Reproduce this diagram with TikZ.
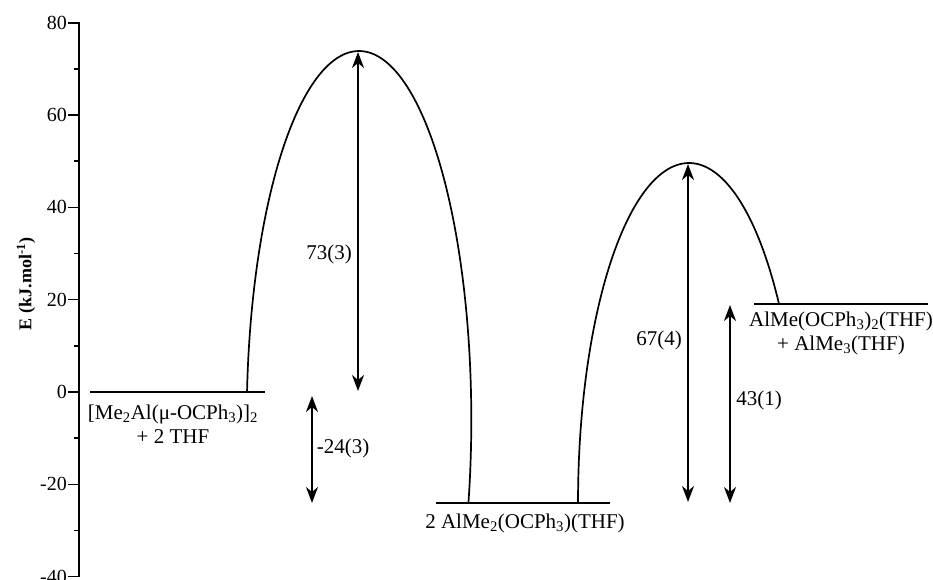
\documentclass[tikz,border=0pt]{standalone}
\usepackage{fontspec}
\setmainfont{Liberation Serif}
\usetikzlibrary{arrows.meta}
\tikzset{
  levelline/.style={line width=2.2pt},
  barrier/.style={line width=1.7pt},
  axisline/.style={line width=2.2pt},
  tickline/.style={line width=1.5pt},
  dblarrow/.style={line width=1.4pt,
    {Stealth[length=16pt,width=12pt,inset=5pt]}-{Stealth[length=16pt,width=12pt,inset=5pt]}},
  lbl/.style={font=\fontsize{21}{24}\selectfont, align=center, inner sep=0pt},
  ticklbl/.style={font=\fontsize{20}{22}\selectfont, anchor=east, inner sep=0pt},
}
\begin{document}
\begin{tikzpicture}[x=1pt,y=-1pt]
\useasboundingbox (0,0) rectangle (933,580);
% axis
\coordinate (axtop) at (79,22);
\coordinate (axbot) at (79,577);
\draw[axisline] (axtop) -- (axbot);
\foreach \v in {80,60,40,20,0,-20,-40}{
  \coordinate (tk\v) at (79,{392-4.615*\v});
  \draw[tickline] (tk\v) -- ++(-11,0);
  \node[ticklbl] (tl\v) at ([xshift=-12pt]tk\v) {\v};
}
\foreach \v in {70,50,30,10,-10,-30}{
  \coordinate (mk\v) at (79,{392-4.615*\v});
  \draw[tickline] (mk\v) -- ++(-5,0);
}
\node[rotate=90, font={\fontsize{18}{20}\selectfont\bfseries}, inner sep=0pt] (ylab) at (26,284) {E (kJ.mol\textsuperscript{-1})};
% levels
\coordinate (l0a) at (90,392);  \coordinate (l0b) at (265,392);
\coordinate (l1a) at (436,503); \coordinate (l1b) at (610,503);
\coordinate (l2a) at (754,304); \coordinate (l2b) at (928,304);
\draw[levelline] (l0a) -- (l0b);
\draw[levelline] (l1a) -- (l1b);
\draw[levelline] (l2a) -- (l2b);
% barriers
\draw[barrier] plot[domain=184.35:373, samples=120, smooth] ({359+112.3*cos(\x)},{420+369*sin(\x)});
\draw[barrier] plot[domain=180:324.17, samples=120, smooth] ({689+111*cos(\x)},{503+340*sin(\x)});
% arrows
\coordinate (a1b) at (358,391); \coordinate (a1t) at (358,52);
\coordinate (a2t) at (312,396); \coordinate (a2b) at (312,503);
\coordinate (a3t) at (688,164); \coordinate (a3b) at (688,502);
\coordinate (a4t) at (730,305); \coordinate (a4b) at (730,503);
\draw[dblarrow] (a1b) -- (a1t);
\draw[dblarrow] (a2t) -- (a2b);
\draw[dblarrow] (a3t) -- (a3b);
\draw[dblarrow] (a4t) -- (a4b);
% labels
\node[lbl] (e1) at (329,254) {73(3)};
\node[lbl] (e2) at (343,448) {-24(3)};
\node[lbl] (e3) at (659,340) {67(4)};
\node[lbl] (e4) at (759,400) {43(1)};
\node[lbl] (s0) at (173,424) {[Me\textsubscript{2}Al(μ-OCPh\textsubscript{3})]\textsubscript{2}\\+ 2 THF};
\node[lbl] (s1) at (525,523) {2 AlMe\textsubscript{2}(OCPh\textsubscript{3})(THF)};
\node[lbl] (s2) at (841,333) {AlMe(OCPh\textsubscript{3})\textsubscript{2}(THF)\\+ AlMe\textsubscript{3}(THF)};
\end{tikzpicture}
\end{document}
